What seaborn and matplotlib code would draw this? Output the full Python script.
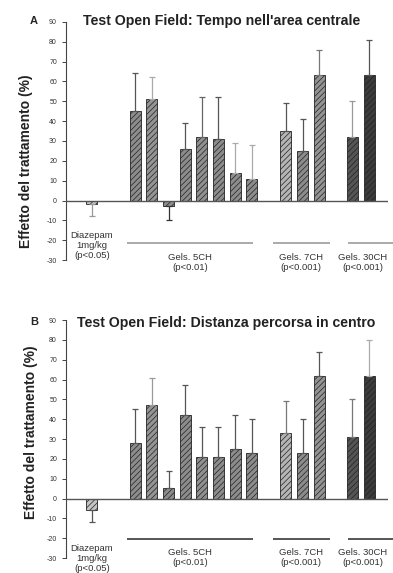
import numpy as np
import pandas as pd
import matplotlib
matplotlib.use("Agg")
import matplotlib.pyplot as plt
import seaborn as sns

sns.set_theme(style="white")
plt.rcParams['font.family'] = ['Liberation Sans', 'DejaVu Sans']
plt.rcParams['hatch.color'] = '#222222'
plt.rcParams['hatch.linewidth'] = 0.5
plt.rcParams['axes.unicode_minus'] = False

# ---- data ----
groups = ["Diazepam", "G5", "G5", "G5", "G5", "G5", "G5", "G5", "G5",
          "G7", "G7", "G7", "G30", "G30"]
values_A = [-1.5, 45, 51, -2.5, 26, 32, 31, 14, 11, 35, 25, 63, 32, 63]
sd_A = [6.5, 19, 11, 7.5, 13, 20, 21, 15, 17, 14, 16, 13, 18, 18]
values_B = [-6, 28, 47, 5.5, 42, 21, 21, 25, 23, 33, 23, 62, 31, 62]
sd_B = [6, 17, 14, 8.5, 15, 15, 15, 17, 17, 16, 17, 12, 19, 18]

title_A = "Test Open Field: Tempo nell'area centrale"
title_B = "Test Open Field: Distanza percorsa in centro"
ylabel = "Effetto del trattamento (%)"
diaz_label = "Diazepam\n1mg/kg\n(p<0.05)"
group_labels_A = ["Gels. 5CH\n(p<0.01)", "Gels. 7CH\n(p<0.001)", "Gels. 30CH\n(p<0.001)"]
group_labels_B = ["Gels. 5CH\n(p<0.01)", "Gels. 7CH\n(p<0.001)", "Gels. 30CH\n(p<0.001)"]
yticks = list(range(-30, 91, 10))

# ---- styles ----
face = ['#c4c4c4', '#8c8c8c', '#949494', '#8c8c8c', '#8c8c8c', '#909090', '#8c8c8c',
        '#8c8c8c', '#8c8c8c', '#b4b4b4', '#8c8c8c', '#939393', '#555555', '#3c3c3c']
errc_A = ['#999999', '#555555', '#aaaaaa', '#333333', '#555555', '#666666', '#555555',
          '#aaaaaa', '#aaaaaa', '#555555', '#555555', '#777777', '#999999', '#555555']
errc_B = ['#555555', '#555555', '#999999', '#555555', '#555555', '#555555', '#555555',
          '#555555', '#555555', '#777777', '#555555', '#555555', '#777777', '#aaaaaa']

# positions from group structure (gap before each new group)
gap_before = {"G5": 2.6, "G7": 2.05, "G30": 2.0}
pos = []
x = 0.0
prev = None
for g in groups:
    if prev is not None:
        x += 1.0 if g == prev else gap_before[g]
    pos.append(round(x, 2))
    prev = g
pos = np.array(pos)

group_names = ["G5", "G7", "G30"]
line_ext = {"G5": (-0.5, 0.05), "G7": (-0.78, 0.62), "G30": (-0.3, 2.0)}
text_off = {"G5": 0.0, "G7": 0.0, "G30": -0.75}

fig = plt.figure(figsize=(3.93, 5.73), dpi=100)
axA = fig.add_axes([0.168, 0.546, 0.82, 0.416])
axB = fig.add_axes([0.168, 0.026, 0.82, 0.4155])


def draw(ax, vals, sds, errc, glabels, diaz_y, grp_y, line_y, line_col, lab_xy):
    df = pd.DataFrame({"x": pos, "y": vals})
    sns.barplot(data=df, x="x", y="y", native_scale=True, width=0.66,
                color='#8c8c8c', edgecolor='#222222', linewidth=0.6,
                errorbar=None, ax=ax, zorder=2)
    for p, fc in zip(ax.patches, face):
        p.set_facecolor(fc)
        p.set_hatch('//////')
    for xi, v, s, c in zip(pos, vals, sds, errc):
        yerr = [[0], [s]] if v >= 0 else [[s], [0]]
        ax.errorbar([xi], [v], yerr=yerr, fmt='none', ecolor=c, elinewidth=0.9,
                    capsize=2.5, capthick=0.9, zorder=3)
    ax.axhline(0, color='#555555', lw=1.0, zorder=4)
    ax.set_xlim(-1.56, 17.8)
    ax.set_ylim(-30, 90)
    ax.set_yticks(yticks)
    ax.set_xticks([])
    ax.set_xlabel("")
    for sp in ["top", "right", "bottom"]:
        ax.spines[sp].set_visible(False)
    ax.spines["left"].set_color('#444444')
    ax.spines["left"].set_linewidth(0.8)
    ax.tick_params(axis='y', direction='out', length=3, width=0.7, colors='#444444',
                   labelsize=5, labelcolor='#333333', left=True)
    ax.set_ylabel(ylabel, fontsize=10, fontweight='bold', color='#222222')
    ax.yaxis.set_label_coords(*lab_xy)
    ax.text(pos[0], diaz_y, diaz_label, ha='center', va='center', fontsize=6.8,
            color='#333333', linespacing=1.15, clip_on=False)
    for gname, lab in zip(group_names, glabels):
        gx = pos[[i for i, g in enumerate(groups) if g == gname]]
        x0 = gx.min() + line_ext[gname][0]
        x1 = gx.max() + line_ext[gname][1]
        ax.plot([x0, x1], [line_y, line_y], color=line_col, lw=1.4,
                solid_capstyle='butt', clip_on=False)
        ax.text((x0 + x1) / 2 + text_off[gname], grp_y, lab, ha='center', va='center',
                fontsize=6.8, color='#333333', linespacing=1.15, clip_on=False)


draw(axA, values_A, sd_A, errc_A, group_labels_A, -22.7, -31, -21.5, '#aaaaaa',
     (-0.102, 0.416))
draw(axB, values_B, sd_B, errc_B, group_labels_B, -30, -29.5, -20.3, '#555555',
     (-0.088, 0.53))

fig.text(30 / 393, 1 - 21 / 573, "A", fontsize=8, fontweight='bold', va='center')
fig.text(83 / 393, 1 - 21 / 573, title_A, fontsize=10.2, fontweight='bold', va='center',
         color='#222222')
fig.text(30 / 393, 1 - 322 / 573, "B", fontsize=8, fontweight='bold', va='center')
fig.text(77 / 393, 1 - 323 / 573, title_B, fontsize=10.2, fontweight='bold', va='center',
         color='#222222')

fig.savefig("out.png", dpi=100)
